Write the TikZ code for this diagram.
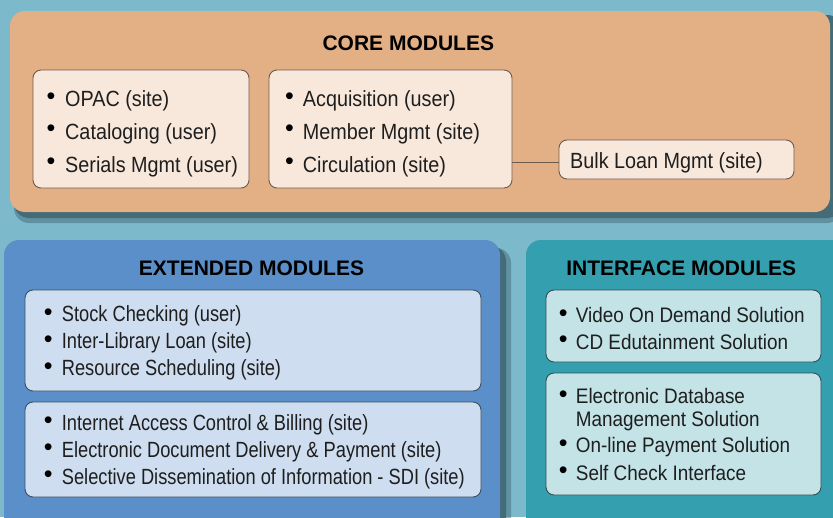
\documentclass[tikz,border=0pt]{standalone}
\usepackage{fontspec}
\setmainfont{Liberation Sans}
\newfontfamily\corefont[FakeStretch=0.9]{Liberation Sans}
\newfontfamily\extfont[FakeStretch=0.83]{Liberation Sans}
\newfontfamily\intfont[FakeStretch=0.9]{Liberation Sans}
\usetikzlibrary{calc}
\definecolor{bgc}{HTML}{7BB9CB}
\definecolor{corec}{HTML}{E3B086}
\definecolor{coreinner}{HTML}{F8E8DC}
\definecolor{coreborder}{HTML}{6E5A4C}
\definecolor{extc}{HTML}{5B8FCA}
\definecolor{extinner}{HTML}{CEDDF0}
\definecolor{extborder}{HTML}{3D4E63}
\definecolor{intc}{HTML}{349FAE}
\definecolor{intinner}{HTML}{C3E3E7}
\definecolor{intborder}{HTML}{2E4F55}
\definecolor{shadowc}{HTML}{446B78}
\definecolor{txtc}{HTML}{1E1E1E}
\begin{document}
\begin{tikzpicture}[x=1pt,y=-1pt,
  panel/.style={rounded corners=15pt},
  inbox/.style={draw, line width=0.9pt, rounded corners=8pt, inner sep=0pt},
  corebox/.style={inbox, fill=coreinner, draw=coreborder},
  extbox/.style={inbox, fill=extinner, draw=extborder},
  intbox/.style={inbox, fill=intinner, draw=intborder},
  ttl/.style={anchor=base, inner sep=0pt, font=\bfseries\fontsize{21}{25}\selectfont, text=black},
  citem/.style={anchor=base west, inner sep=0pt, text=txtc, font=\corefont\fontsize{22}{26}\selectfont},
  eitem/.style={anchor=base west, inner sep=0pt, text=txtc, font=\extfont\fontsize{22}{26}\selectfont},
  iitem/.style={anchor=base west, inner sep=0pt, text=txtc, font=\intfont\fontsize{21}{25}\selectfont},
  bul/.style={anchor=center, inner sep=0pt, text=black, font=\fontsize{25}{25}\selectfont},
]
\clip (0,0) rectangle (833,517);
\fill[bgc] (0,0) rectangle (833,517);

% ---------- CORE ----------
\fill[shadowc,panel] (14,15) rectangle (842,218);
\fill[shadowc,opacity=0.5,panel] (14,15) rectangle (842,223);
\fill[corec,panel] (10,11) rectangle (830,212);
\node[ttl] (coretitle) at (408.3,50) {CORE MODULES};

\node[corebox, minimum width=216pt, minimum height=118pt] (core1) at (141,129) {};
\node[corebox, minimum width=243pt, minimum height=118pt] (core2) at (390.5,129) {};
\node[corebox, minimum width=235pt, minimum height=39pt] (bulk) at (676.5,159.5) {};

\node[bul] (b11) at (51,98.3) {•};
\node[bul] (b12) at (51,131) {•};
\node[bul] (b13) at (51,163.7) {•};
\node[citem] (c11) at (65,106) {OPAC (site)};
\node[citem] (c12) at (65,139) {Cataloging (user)};
\node[citem] (c13) at (65,172) {Serials Mgmt (user)};

\node[bul] (b21) at (289.5,98.3) {•};
\node[bul] (b22) at (289.5,131) {•};
\node[bul] (b23) at (289.5,163.7) {•};
\node[citem] (c21) at (302.7,106) {Acquisition (user)};
\node[citem] (c22) at (302.7,139) {Member Mgmt (site)};
\node[citem] (c23) at (302.7,172) {Circulation (site)};

\node[citem] (bulktext) at (570,168) {Bulk Loan Mgmt (site)};
\draw[coreborder, line width=1.2pt] ($(core2.east |- bulk.west)+(0,2.8)$) -- ($(bulk.west)+(0,2.8)$);

% ---------- EXTENDED ----------
\fill[shadowc,panel] (8,246) rectangle (506,540);
\fill[shadowc,opacity=0.5,panel] (8,248) rectangle (511,540);
\fill[extc,panel] (4,240) rectangle (500,535);
\node[ttl] (exttitle) at (251.5,275) {EXTENDED MODULES};

\node[extbox, minimum width=456pt, minimum height=101pt] (ext1) at (253,340.5) {};
\node[extbox, minimum width=456pt, minimum height=95pt] (ext2) at (253,449.5) {};

\node[bul] (e1b1) at (48.3,314.7) {•};
\node[bul] (e1b2) at (48.3,341.3) {•};
\node[bul] (e1b3) at (48.3,368.3) {•};
\node[eitem] (e11) at (61.7,321.7) {Stock Checking (user)};
\node[eitem] (e12) at (61.7,348.3) {Inter-Library Loan (site)};
\node[eitem] (e13) at (61.7,375.3) {Resource Scheduling (site)};

\node[bul] (e2b1) at (48.3,423) {•};
\node[bul] (e2b2) at (48.3,450) {•};
\node[bul] (e2b3) at (48.3,477) {•};
\node[eitem] (e21) at (61.7,430) {Internet Access Control \& Billing (site)};
\node[eitem] (e22) at (61.7,457) {Electronic Document Delivery \& Payment (site)};
\node[eitem] (e23) at (61.7,484) {Selective Dissemination of Information - SDI (site)};

% ---------- INTERFACE ----------
\fill[intc,panel] (526,240) rectangle (850,535);
\node[ttl] (inttitle) at (681.2,275) {INTERFACE MODULES};

\node[intbox, minimum width=275pt, minimum height=72pt] (int1) at (683.5,326) {};
\node[intbox, minimum width=275pt, minimum height=122pt] (int2) at (683.5,434) {};

\node[bul] (i1b1) at (563.3,315.3) {•};
\node[bul] (i1b2) at (563.3,342) {•};
\node[iitem] (i11) at (575.7,322.3) {Video On Demand Solution};
\node[iitem] (i12) at (575.7,349) {CD Edutainment Solution};

\node[bul] (i2b1) at (563.3,396.3) {•};
\node[bul] (i2b2) at (563.3,445.3) {•};
\node[bul] (i2b3) at (563.3,473) {•};
\node[iitem] (i21) at (575.7,403.3) {Electronic Database};
\node[iitem] (i21b) at (575.7,426.7) {Management Solution};
\node[iitem] (i22) at (575.7,452.3) {On-line Payment Solution};
\node[iitem] (i23) at (575.7,480) {Self Check Interface};
\end{tikzpicture}
\end{document}
